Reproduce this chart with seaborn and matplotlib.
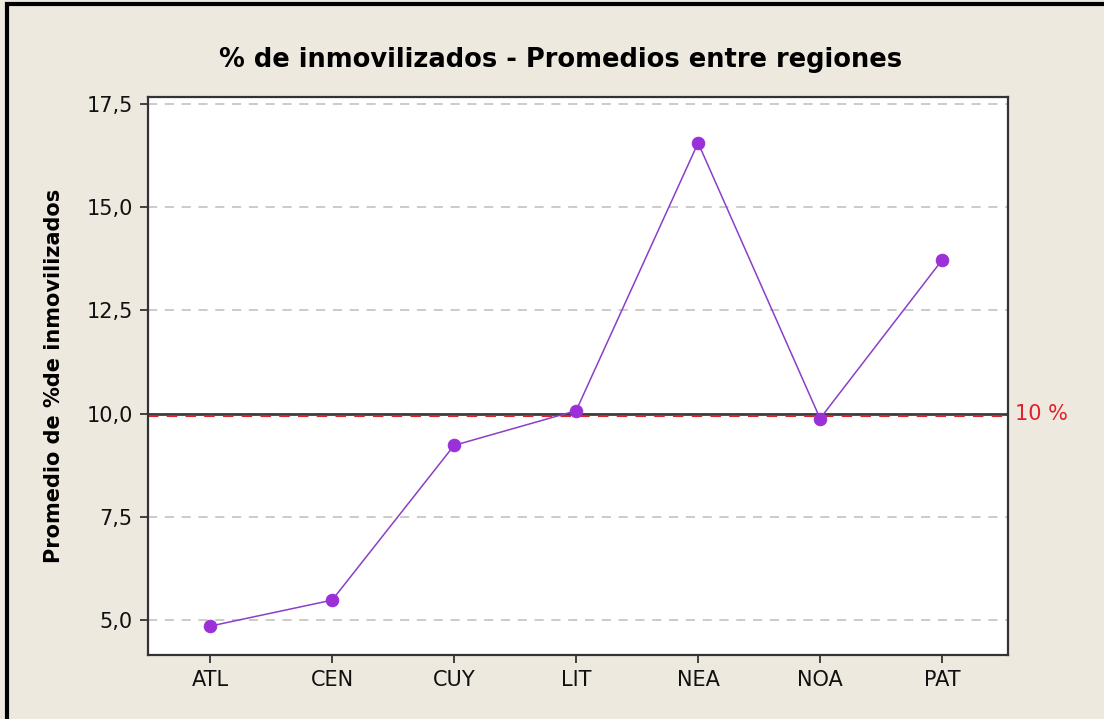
import pandas as pd
import matplotlib.pyplot as plt
import matplotlib.patches as mpatches
import seaborn as sns

# datos
regiones = ['ATL', 'CEN', 'CUY', 'LIT', 'NEA', 'NOA', 'PAT']
promedios = [4.85, 5.48, 9.23, 10.07, 16.56, 9.88, 13.72]
y_ticks = [5.0, 7.5, 10.0, 12.5, 15.0, 17.5]
y_labels = ['5,0', '7,5', '10,0', '12,5', '15,0', '17,5']
linea_ref = 10.0
linea_meta = 9.93

sns.set_style('white')
plt.rcParams['font.family'] = ['DejaVu Sans']

df = pd.DataFrame({'region': regiones, 'promedio': promedios})

fondo = '#EDE9DF'
fig = plt.figure(figsize=(11.04, 7.19), dpi=100, facecolor=fondo)
ax = fig.add_axes([0.134, 0.089, 0.779, 0.776])
ax.set_facecolor('white')

# marco exterior (solo visible arriba e izquierda)
fig.patches.append(mpatches.Rectangle((0.006, -0.05), 1.1, 1.044, transform=fig.transFigure,
                                      fill=False, edgecolor='black', linewidth=3, zorder=0))

for t in y_ticks:
    ax.axhline(t, color='#BDBDBD', linestyle=(0, (6, 5)), linewidth=1.1, zorder=1)

ax.axhline(linea_ref, color='#3C3C3C', linewidth=2, zorder=2)
ax.axhline(linea_meta, color='#E0202A', linestyle=(0, (5, 4)), linewidth=1.5, zorder=2)

sns.lineplot(data=df, x='region', y='promedio', ax=ax, color='#8A3FC8', linewidth=1.1,
             marker='o', markersize=9, markerfacecolor='#9B30D8', markeredgecolor='#9B30D8',
             sort=False, zorder=3)

ax.set_xlim(-0.51, 6.54)
ax.set_ylim(4.15, 17.67)
ax.set_yticks(y_ticks)
ax.set_yticklabels(y_labels)
ax.tick_params(axis='both', labelsize=15, length=6, width=1.3, color='#333333',
               labelcolor='#111111', left=True, bottom=True, pad=5)
for s in ax.spines.values():
    s.set_color('#333333')
    s.set_linewidth(1.6)

ax.set_xlabel('')
ax.set_ylabel('Promedio de %de inmovilizados', fontsize=15, fontweight='bold', labelpad=16,
              color='black')
fig.text(0.508, 0.917, '% de inmovilizados - Promedios entre regiones', ha='center', va='center',
         fontsize=18.5, fontweight='bold', color='black')
ax.text(1.008, linea_ref, '10 %', transform=ax.get_yaxis_transform(), color='#E0202A',
        fontsize=15, va='center', ha='left')

fig.savefig('out.png', dpi=100, facecolor=fondo)
